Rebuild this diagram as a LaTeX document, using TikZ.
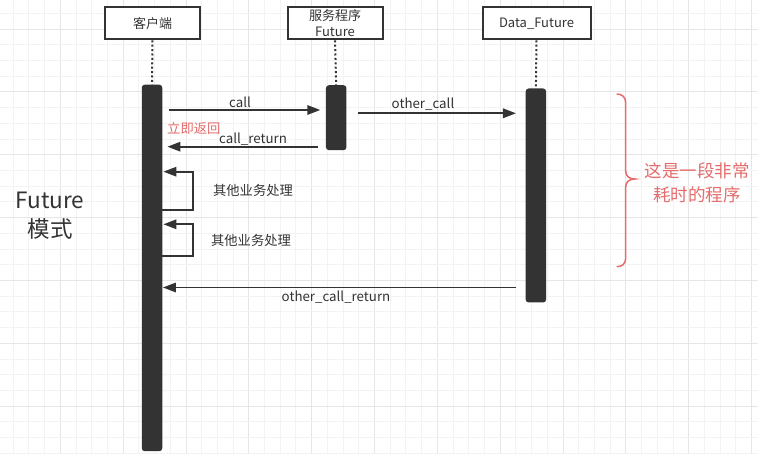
\documentclass[tikz,border=0pt]{standalone}
\usepackage{fontspec}
\usepackage{xcolor}
\usetikzlibrary{arrows.meta}
\newfontfamily\cjk{Noto Sans CJK SC}
\definecolor{ink}{HTML}{333333}
\definecolor{note}{HTML}{E46C6C}
\definecolor{gridminor}{HTML}{F3F3F3}
\definecolor{gridmajor}{HTML}{E6E6E6}
\tikzset{
    head/.style={draw=ink,line width=2pt,fill=white,minimum width=95pt,minimum height=32pt,
        inner sep=1pt,align=center,font=\cjk\fontsize{13}{16}\selectfont,text=ink},
    bar/.style={fill=ink,rounded corners=3pt,minimum width=20.5pt,anchor=north,inner sep=0pt},
    life/.style={ink,line width=2pt,dash pattern=on 2pt off 2.4pt},
    msg/.style={ink,line width=1.7pt,-{Triangle[length=13pt,width=9.5pt]}},
    lbl/.style={font=\cjk\fontsize{13.3}{15}\selectfont,text=ink,inner sep=1pt},
}

\begin{document}
\begin{tikzpicture}[x=1pt,y=-1pt]
		\useasboundingbox[fill=white] (0,0) rectangle (758,454);
		% background grid
		\foreach \i in {0,...,47} {
			\pgfmathsetmacro\gx{13.2+15.71*\i}
			\pgfmathtruncatemacro\gm{mod(\i,4)}
			\ifnum\gm=3 \draw[gridmajor,line width=1pt] (\gx,0) -- (\gx,454);
			\else \draw[gridminor,line width=1pt] (\gx,0) -- (\gx,454); \fi
		}
		\foreach \i in {0,...,28} {
			\pgfmathsetmacro\gy{13.4+15.71*\i}
			\pgfmathtruncatemacro\gm{mod(\i,4)}
			\ifnum\gm=1 \draw[gridmajor,line width=1pt] (0,\gy) -- (758,\gy);
			\else \draw[gridminor,line width=1pt] (0,\gy) -- (758,\gy); \fi
		}
		% lifelines
		\node[head] (client) at (152.5,23.3) {客户端};
		\node[head] (server) at (335,23.3) {服务程序\\Future};
		\node[head,minimum width=108pt] (data) at (536.5,23.3) {Data\_Future};
		\node[bar,minimum height=366.5pt] (cbar) at (152,84.5) {};
		\node[bar,minimum height=65pt] (sbar) at (336.2,85) {};
		\node[bar,minimum height=214pt] (dbar) at (535.9,88.3) {};
		\draw[life] (client.south) -- (cbar.north);
		\draw[life] (server.south) -- (sbar.north);
		\draw[life] (data.south) -- (dbar.north);
		% messages
		\draw[msg,shorten <=7pt,shorten >=5.5pt] (cbar.east |- 0,110) -- (sbar.west |- 0,110);
		\node[lbl] (callt) at (240,102) {call};
		\draw[msg,shorten <=8pt,shorten >=5pt] (sbar.west |- 0,146.7) -- (cbar.east |- 0,146.7);
		\node[lbl,anchor=west,text=note] (backt) at (166,128) {立即返回};
		\node[lbl] (rett) at (253,139) {call\_return};
		\draw[msg,shorten <=11.5pt,shorten >=9.5pt] (sbar.east |- 0,113.3) -- (dbar.west |- 0,113.3);
		\node[lbl] (othert) at (423,104) {other\_call};
		\coordinate (loopa) at (193.3,210);
		\draw[msg] (cbar.east |- loopa) -- (loopa) -- (loopa |- 0,171.7) -- ([xshift=1pt]cbar.east |- 0,171.7);
		\node[lbl] (worka) at (253,190.5) {其他业务处理};
		\coordinate (loopb) at (193.3,256);
		\draw[msg] (cbar.east |- loopb) -- (loopb) -- (loopb |- 0,224.3) -- ([xshift=1pt]cbar.east |- 0,224.3);
		\node[lbl] (workb) at (251,240) {其他业务处理};
		\draw[msg,shorten <=9pt,shorten >=0.5pt] (dbar.west |- 0,287.5) -- (cbar.east |- 0,287.5);
		\node[lbl] (oretT) at (336,297.5) {other\_call\_return};
		% title and note
		\node[font=\cjk\fontsize{22.5}{29}\selectfont,text=ink,align=center] (title) at (50,215.5) {Future\\模式};
		\draw[note,line width=1.5pt] (616.7,94) .. controls (622,94) and (625.7,97) .. (625.7,103) -- (625.7,171)
			.. controls (625.7,176) and (629,179) .. (635,179) .. controls (629,179) and (625.7,182) .. (625.7,187)
			-- (625.7,258) .. controls (625.7,264) and (622,266.7) .. (616.7,266.7);
		\node[font=\cjk\fontsize{17.5}{23.5}\selectfont,text=note,align=center] (slow) at (697,183) {这是一段非常\\耗时的程序};
	\end{tikzpicture}
\end{document}
